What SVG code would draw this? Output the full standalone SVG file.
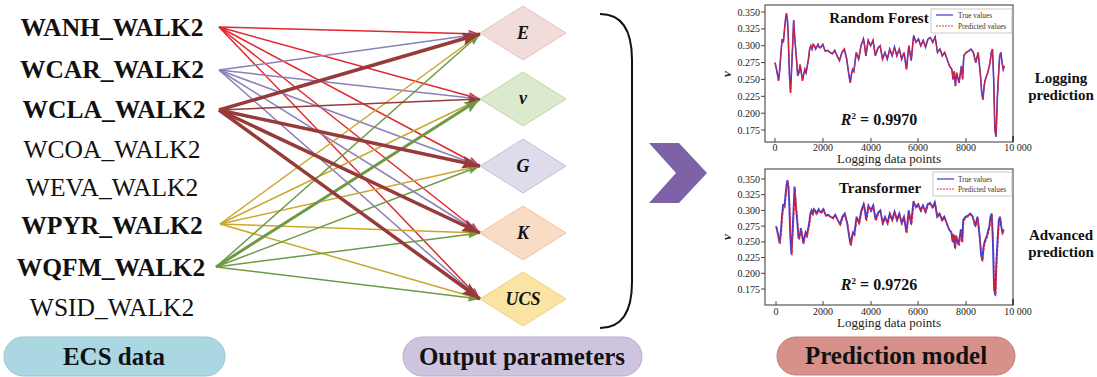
<svg xmlns="http://www.w3.org/2000/svg" xmlns:xlink="http://www.w3.org/1999/xlink" width="1097" height="377" viewBox="0 0 1097 377">
<style>
text{font-family:"Liberation Serif","Times New Roman",Times,"DejaVu Serif",serif}
.src{font-size:25.5px;fill:#111;text-anchor:middle}
.b{font-weight:bold}
.dl{font-size:18px;font-weight:bold;font-style:italic;fill:#111;text-anchor:middle}
.pill{font-size:25px;font-weight:bold;fill:#111;text-anchor:middle}
.e{fill:none;stroke-width:1.5}
.red{stroke:#e3262d}
.pur{stroke:#8c80b8}
.drd{stroke:#963a3a}
.yel{stroke:#c9a82c}
.grn{stroke:#6f9a45}
.thick{stroke-width:3.5}
.tk{font-size:10px;fill:#222}
.ax{font-size:13px;fill:#222;text-anchor:middle}
.ttl{font-size:15px;font-weight:bold;fill:#111;text-anchor:middle}
.r2{font-size:16px;font-weight:bold;fill:#111;text-anchor:middle}
.side{font-size:15px;font-weight:bold;fill:#111;text-anchor:middle}
.lg{font-size:7.3px;fill:#333}
.frame{fill:#fff;stroke:#555;stroke-width:1.2}
.tick{stroke:#444;stroke-width:1}
</style>
<defs>
<marker id="mr" viewBox="0 0 12 8" refX="12" refY="4" markerWidth="12" markerHeight="8" markerUnits="userSpaceOnUse" orient="auto"><path d="M0,0 L12,4 L0,8 L2,4 z" fill="#e3262d"/></marker>
<marker id="mp" viewBox="0 0 12 8" refX="12" refY="4" markerWidth="12" markerHeight="8" markerUnits="userSpaceOnUse" orient="auto"><path d="M0,0 L12,4 L0,8 L2,4 z" fill="#8c80b8"/></marker>
<marker id="md" viewBox="0 0 12 8" refX="12" refY="4" markerWidth="12" markerHeight="8" markerUnits="userSpaceOnUse" orient="auto"><path d="M0,0 L12,4 L0,8 L2,4 z" fill="#963a3a"/></marker>
<marker id="mD" viewBox="0 0 18 13" refX="18" refY="6.5" markerWidth="18" markerHeight="13" markerUnits="userSpaceOnUse" orient="auto"><path d="M0,0 L18,6.5 L0,13 L3,6.5 z" fill="#963a3a"/></marker>
<marker id="my" viewBox="0 0 12 8" refX="12" refY="4" markerWidth="12" markerHeight="8" markerUnits="userSpaceOnUse" orient="auto"><path d="M0,0 L12,4 L0,8 L2,4 z" fill="#c9a82c"/></marker>
<marker id="mg" viewBox="0 0 12 8" refX="12" refY="4" markerWidth="12" markerHeight="8" markerUnits="userSpaceOnUse" orient="auto"><path d="M0,0 L12,4 L0,8 L2,4 z" fill="#6f9a45"/></marker>
<marker id="mG" viewBox="0 0 16 12" refX="16" refY="6" markerWidth="16" markerHeight="12" markerUnits="userSpaceOnUse" orient="auto"><path d="M0,0 L16,6 L0,12 L3,6 z" fill="#6f9a45"/></marker>
<path id="series" vector-effect="non-scaling-stroke" fill="none" d="M0,75 L0.6,84 L1,92 L1.5,102 L2,85 L2.5,60 L3,40 L3.5,45 L4,25 L4.5,8 L4.8,2 L5.2,12 L5.5,30 L6,90 L6.5,120 L7,80 L7.5,40 L7.8,12 L8.3,40 L9,70 L9.5,95 L10,90 L10.5,78 L11,90 L11.5,102 L12,92 L12.5,85 L13,90 L14,70 L14.5,55 L15,50 L15.5,55 L16,48 L16.5,50 L17,55 L18,48 L18.5,52 L19,53 L20,48 L21,58 L22,57 L23,60 L24,62 L25,57 L26,65 L27,72 L28,60 L29,55 L30,70 L31,95 L31.5,105 L32,92 L32.5,85 L33,88 L34,60 L35,70 L36,50 L37,40 L37.5,50 L38,65 L39,42 L40,50 L41,42 L42,65 L43,54 L44,50 L45,70 L46,60 L47,70 L48,55 L49,65 L50,52 L51,65 L52,55 L53,70 L54,60 L55,85 L56,50 L57,72 L58,35 L59,45 L60,40 L61,50 L62,42 L63,52 L64,40 L65,38 L66,45 L67,37 L68,60 L69,55 L70,65 L71,60 L72,70 L73,80 L74,85 L74.5,100 L75,88 L75.5,110 L76,90 L77,105 L78,80 L78.5,100 L79,65 L80,60 L81,58 L82,55 L83,60 L84,75 L85,60 L86,95 L86.5,120 L87,130 L87.5,110 L88,100 L89,90 L90,75 L90.5,60 L91,55 L91.5,100 L92,175 L92.5,185 L93,130 L93.5,95 L94,65 L94.5,60 L95,75 L95.5,85 L96,80"/>
</defs>
<rect width="1097" height="377" fill="#fff"/>

<g id="connectors">
<line class="e red" x1="219" y1="27" x2="480" y2="34" marker-end="url(#mr)"/>
<line class="e red" x1="219" y1="27" x2="480" y2="99" marker-end="url(#mr)"/>
<line class="e red" x1="219" y1="27" x2="480" y2="166" marker-end="url(#mr)"/>
<line class="e red" x1="219" y1="27" x2="480" y2="233" marker-end="url(#mr)"/>
<line class="e red" x1="219" y1="27" x2="480" y2="299" marker-end="url(#mr)"/>
<line class="e pur" x1="219" y1="70" x2="480" y2="34" marker-end="url(#mp)"/>
<line class="e pur" x1="219" y1="70" x2="480" y2="99" marker-end="url(#mp)"/>
<line class="e pur" x1="219" y1="70" x2="480" y2="166" marker-end="url(#mp)"/>
<line class="e pur" x1="219" y1="70" x2="480" y2="233" marker-end="url(#mp)"/>
<line class="e pur" x1="219" y1="70" x2="480" y2="299" marker-end="url(#mp)"/>
<line class="e yel" x1="220" y1="224" x2="480" y2="34" marker-end="url(#my)"/>
<line class="e yel" x1="220" y1="224" x2="480" y2="99" marker-end="url(#my)"/>
<line class="e yel" x1="220" y1="224" x2="480" y2="166" marker-end="url(#my)"/>
<line class="e yel" x1="220" y1="224" x2="480" y2="233" marker-end="url(#my)"/>
<line class="e yel" x1="220" y1="224" x2="480" y2="299" marker-end="url(#my)"/>
<line class="e grn" x1="216" y1="267" x2="480" y2="34" marker-end="url(#mg)"/>
<line class="e grn" x1="216" y1="267" x2="480" y2="166" marker-end="url(#mg)"/>
<line class="e grn" x1="216" y1="267" x2="480" y2="233" marker-end="url(#mg)"/>
<line class="e grn" x1="216" y1="267" x2="480" y2="299" marker-end="url(#mg)"/>
<line class="e grn" style="stroke-width:3" x1="216" y1="267" x2="480" y2="99" marker-end="url(#mG)"/>
<line class="e drd" x1="219" y1="110" x2="480" y2="99" marker-end="url(#md)"/>
<line class="e drd thick" x1="219" y1="110" x2="480" y2="34" marker-end="url(#mD)"/>
<line class="e drd thick" x1="219" y1="110" x2="480" y2="166" marker-end="url(#mD)"/>
<line class="e drd thick" x1="219" y1="110" x2="480" y2="233" marker-end="url(#mD)"/>
<line class="e drd thick" x1="219" y1="110" x2="480" y2="299" marker-end="url(#mD)"/>
</g>

<g id="sources">
<text id="n-wanh" class="src b" x="112" y="36">WANH_WALK2</text>
<text id="n-wcar" class="src b" x="112" y="78">WCAR_WALK2</text>
<text id="n-wcla" class="src b" x="114" y="118">WCLA_WALK2</text>
<text id="n-wcoa" class="src" x="112" y="158">WCOA_WALK2</text>
<text id="n-weva" class="src" x="112" y="196">WEVA_WALK2</text>
<text id="n-wpyr" class="src b" x="112" y="234">WPYR_WALK2</text>
<text id="n-wqfm" class="src b" x="111" y="276">WQFM_WALK2</text>
<text id="n-wsid" class="src" x="112" y="316">WSID_WALK2</text>
</g>

<g id="node-E"><path d="M480,33 L523,6 L566,33 L523,60 z" fill="#f2dcd9" stroke="#e3c3be"/><text class="dl" x="523" y="39">E</text></g>
<g id="node-v"><path d="M480,99 L523,72 L566,99 L523,126 z" fill="#dbe9cc" stroke="#c0d6aa"/><text class="dl" x="523" y="104">ν</text></g>
<g id="node-G"><path d="M480,166 L523,139 L566,166 L523,193 z" fill="#dedbea" stroke="#c4bfda"/><text class="dl" x="523" y="172">G</text></g>
<g id="node-K"><path d="M480,233 L523,206 L566,233 L523,260 z" fill="#f9dcc6" stroke="#efc29f"/><text class="dl" x="523" y="239">K</text></g>
<g id="node-UCS"><path d="M480,299 L523,272 L566,299 L523,326 z" fill="#fbe4a3" stroke="#f0d07a"/><text class="dl" x="523" y="305">UCS</text></g>

<g id="bracket"><path d="M600,14 Q632,14 632,60 L632,282 Q632,328 600,328" fill="none" stroke="#111" stroke-width="2"/></g>

<g id="chevron"><path d="M649,143 L679,143 L707,173 L679,203 L649,203 L676,173 z" fill="#7e62a8"/></g>

<g id="pill-ecs"><rect x="4" y="337" width="221" height="39" rx="19.5" fill="#aad7e2" stroke="#93c4d0"/><text class="pill" x="114" y="365">ECS data</text></g>
<g id="pill-out"><rect x="403" y="337" width="239" height="39" rx="19.5" fill="#cfc4e0" stroke="#b9acd2"/><text class="pill" x="522" y="365">Output parameters</text></g>
<g id="pill-pred"><rect x="777" y="337" width="238" height="38" rx="19" fill="#d6918b" stroke="#c47a74"/><text class="pill" x="896" y="364">Prediction model</text></g>

<g id="chart-rf">
<rect class="frame" x="765" y="5" width="248" height="137"/>
<use href="#series" transform="matrix(2.39,0,0,0.6744,775,12)" stroke="#3a3ad8" stroke-width="1.6"/>
<use href="#series" transform="matrix(2.39,0,0,0.6744,775,12)" stroke="#e8202a" stroke-width="1.2" stroke-dasharray="3 1.2"/>
<g class="tick">
<line x1="761" y1="12" x2="765" y2="12"/><line x1="761" y1="28.9" x2="765" y2="28.9"/><line x1="761" y1="45.7" x2="765" y2="45.7"/><line x1="761" y1="62.6" x2="765" y2="62.6"/><line x1="761" y1="79.4" x2="765" y2="79.4"/><line x1="761" y1="96.3" x2="765" y2="96.3"/><line x1="761" y1="113.2" x2="765" y2="113.2"/><line x1="761" y1="130" x2="765" y2="130"/>
<line x1="775" y1="142" x2="775" y2="138"/><line x1="823" y1="142" x2="823" y2="138"/><line x1="871" y1="142" x2="871" y2="138"/><line x1="918" y1="142" x2="918" y2="138"/><line x1="966" y1="142" x2="966" y2="138"/><line x1="1013" y1="142" x2="1013" y2="136" stroke-width="2"/>
</g>
<g class="tk" text-anchor="end">
<text x="760" y="15.5">0.350</text><text x="760" y="32.4">0.325</text><text x="760" y="49.2">0.300</text><text x="760" y="66.1">0.275</text><text x="760" y="82.9">0.250</text><text x="760" y="99.8">0.225</text><text x="760" y="116.7">0.200</text><text x="760" y="133.5">0.175</text>
</g>
<g class="tk" text-anchor="middle">
<text x="775" y="151">0</text><text x="823" y="151">2000</text><text x="871" y="151">4000</text><text x="918" y="151">6000</text><text x="966" y="151">8000</text><text x="1018" y="151">10 000</text>
</g>
<text class="ax" x="889" y="163">Logging data points</text>
<text class="ax" font-weight="bold" font-style="italic" transform="rotate(-90 731 74)" x="731" y="74">ν</text>
<text class="ttl" x="879" y="23">Random Forest</text>
<rect x="931" y="9" width="81" height="24" fill="#fff" stroke="#bbb" stroke-width="0.8"/>
<line x1="936" y1="15" x2="953" y2="15" stroke="#3a3ad8" stroke-width="1.2"/>
<line x1="936" y1="26" x2="953" y2="26" stroke="#e8202a" stroke-width="0.9" stroke-dasharray="2 1"/>
<text class="lg" x="958" y="17.5">True values</text>
<text class="lg" x="958" y="28.5">Predicted values</text>
<text class="r2" x="879" y="125"><tspan font-style="italic">R</tspan><tspan font-size="9" dy="-6">2</tspan><tspan dy="6"> = 0.9970</tspan></text>
</g>

<g id="chart-tf">
<rect class="frame" x="765" y="169" width="248" height="136"/>
<use href="#series" transform="matrix(2.37,0,0,0.6284,776,179)" stroke="#3a3ad8" stroke-width="1.8"/>
<use href="#series" transform="matrix(2.37,0,0,0.6284,776.6,180)" stroke="#e8202a" stroke-width="1.1" stroke-dasharray="3 1.2"/>
<g class="tick">
<line x1="761" y1="179" x2="765" y2="179"/><line x1="761" y1="194.7" x2="765" y2="194.7"/><line x1="761" y1="210.4" x2="765" y2="210.4"/><line x1="761" y1="226.1" x2="765" y2="226.1"/><line x1="761" y1="241.9" x2="765" y2="241.9"/><line x1="761" y1="257.6" x2="765" y2="257.6"/><line x1="761" y1="273.3" x2="765" y2="273.3"/><line x1="761" y1="289" x2="765" y2="289"/>
<line x1="776" y1="305" x2="776" y2="301"/><line x1="823" y1="305" x2="823" y2="301"/><line x1="871" y1="305" x2="871" y2="301"/><line x1="918" y1="305" x2="918" y2="301"/><line x1="966" y1="305" x2="966" y2="301"/><line x1="1013" y1="305" x2="1013" y2="299" stroke-width="2"/>
</g>
<g class="tk" text-anchor="end">
<text x="760" y="182.5">0.350</text><text x="760" y="198.2">0.325</text><text x="760" y="213.9">0.300</text><text x="760" y="229.6">0.275</text><text x="760" y="245.4">0.250</text><text x="760" y="261.1">0.225</text><text x="760" y="276.8">0.200</text><text x="760" y="292.5">0.175</text>
</g>
<g class="tk" text-anchor="middle">
<text x="776" y="315">0</text><text x="823" y="315">2000</text><text x="871" y="315">4000</text><text x="918" y="315">6000</text><text x="966" y="315">8000</text><text x="1018" y="315">10 000</text>
</g>
<text class="ax" x="889" y="327">Logging data points</text>
<text class="ax" font-weight="bold" font-style="italic" transform="rotate(-90 731 237)" x="731" y="237">ν</text>
<text class="ttl" x="880" y="193">Transformer</text>
<rect x="933" y="172" width="79" height="24" fill="#fff" stroke="#bbb" stroke-width="0.8"/>
<line x1="937" y1="179" x2="954" y2="179" stroke="#3a3ad8" stroke-width="1.2"/>
<line x1="937" y1="189" x2="954" y2="189" stroke="#e8202a" stroke-width="0.9" stroke-dasharray="2 1"/>
<text class="lg" x="958" y="181.5">True values</text>
<text class="lg" x="958" y="191.5">Predicted values</text>
<text class="r2" x="879" y="290"><tspan font-style="italic">R</tspan><tspan font-size="9" dy="-6">2</tspan><tspan dy="6"> = 0.9726</tspan></text>
</g>

<g id="labels-side">
<text class="side" x="1061" y="83">Logging</text>
<text class="side" x="1061" y="100">prediction</text>
<text class="side" x="1061" y="240">Advanced</text>
<text class="side" x="1061" y="257">prediction</text>
</g>
</svg>
